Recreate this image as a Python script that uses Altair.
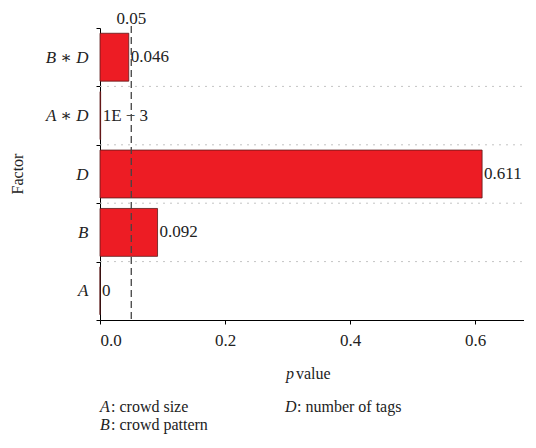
import altair as alt
import pandas as pd

factors = ["B ∗ D", "A ∗ D", "D", "B", "A"]
pvalues = [0.046, 0.001, 0.611, 0.092, 0.0]
value_labels = ["0.046", "1E − 3", "0.611", "0.092", "0"]
threshold = [0.05]
threshold_label = ["0.05"]

df = pd.DataFrame({"factor": factors, "p": pvalues, "label": value_labels})
th = pd.DataFrame({"t": threshold, "lab": threshold_label})

SERIF = "'Liberation Serif', 'Times New Roman', 'DejaVu Serif', serif"
W, H = 424, 292
FS = 16

yscale = alt.Scale(domain=factors, paddingInner=0, paddingOuter=0)
xscale = alt.Scale(domain=[0, 0.678], nice=False)

yaxis = alt.Axis(
    title=None, tickBand="extent", tickSize=4, labelPadding=8,
    labelFont=SERIF, labelFontSize=17, labelFontStyle="italic",
    labelColor="#222", domainColor="black", tickColor="black", grid=False)
xaxis = alt.Axis(
    values=[0, 0.2, 0.4, 0.6], format=".1f", title=None, grid=False,
    tickSize=4, labelPadding=8, labelFontSize=17, labelFont=SERIF,
    labelColor="#222", domainColor="black", tickColor="black")

base = alt.Chart(df)

bars = base.mark_bar(
    color="#ED1C24", stroke="#5a1a1a", strokeWidth=0.8,
    height=alt.RelativeBandSize(band=0.82),
).encode(
    x=alt.X("p:Q", scale=xscale, axis=xaxis),
    y=alt.Y("factor:N", scale=yscale, sort=factors, axis=yaxis),
)

grid = base.transform_filter(alt.datum.factor != factors[0]).mark_rule(
    color="#c4c4c4", strokeDash=[2, 5], strokeWidth=1
).encode(
    y=alt.Y("factor:N", scale=yscale, sort=factors, bandPosition=0, axis=yaxis),
    x=alt.value(0), x2=alt.value(W),
)

labels = base.mark_text(align="left", dx=2, font=SERIF, fontSize=17, color="#222").encode(
    x=alt.X("p:Q", scale=xscale, axis=xaxis),
    y=alt.Y("factor:N", scale=yscale, sort=factors, axis=yaxis),
    text="label:N",
)

thr = alt.Chart(th).mark_rule(strokeDash=[7, 4], color="#444", strokeWidth=1.3).encode(
    x=alt.X("t:Q", scale=xscale, axis=xaxis), y=alt.value(-2), y2=alt.value(H),
)
thr_lab = alt.Chart(th).mark_text(font=SERIF, fontSize=17, color="#222").encode(
    x=alt.X("t:Q", scale=xscale, axis=xaxis), y=alt.value(-9), text="lab:N",
)

def txt(s, x, y, italic=False, angle=0, align="left", size=FS):
    return alt.Chart(pd.DataFrame({"s": [s]})).mark_text(
        font=SERIF, fontSize=size, color="#222", align=align,
        fontStyle="italic" if italic else "normal", angle=angle,
    ).encode(x=alt.value(x), y=alt.value(y), text="s:N")

annots = [
    txt("Factor", -82, H / 2, angle=270, align="center"),
    txt("p", 186, 346, italic=True),
    txt("value", 196, 346),
    txt("A", 0, 379, italic=True),
    txt(": crowd size", 11, 379),
    txt("B", 0, 397, italic=True),
    txt(": crowd pattern", 11, 397),
    txt("D", 185, 379, italic=True),
    txt(": number of tags", 197, 379),
]

chart = alt.layer(bars, grid, labels, thr, thr_lab, *annots).properties(
    width=W, height=H,
    autosize=alt.AutoSizeParams(type="none"),
    padding={"left": 92, "top": 20, "right": 0, "bottom": 114},
).configure_view(stroke=None)

chart.save("out.html", embed_options={"renderer": "svg", "actions": False})
